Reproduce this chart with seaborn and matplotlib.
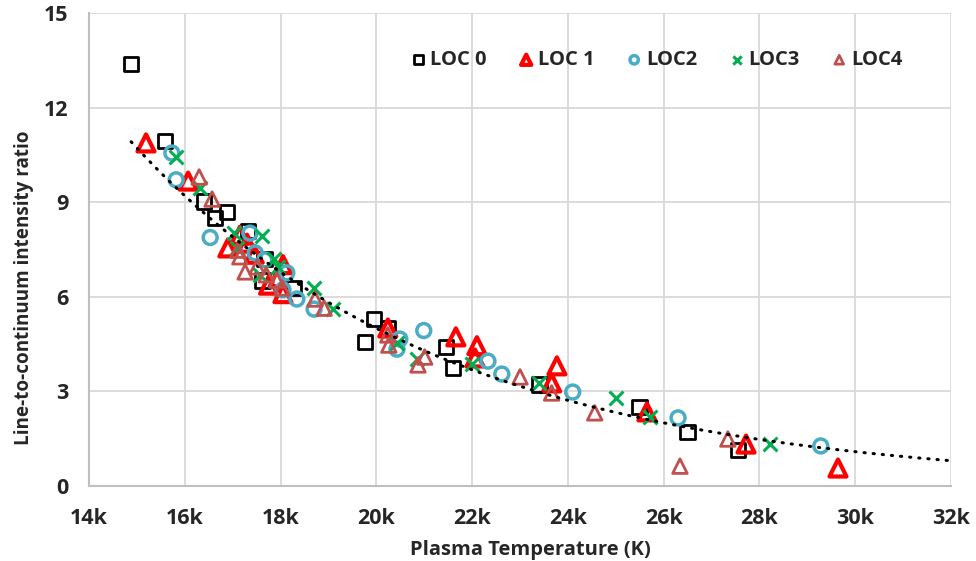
import numpy as np
import seaborn as sns
import matplotlib.pyplot as plt
from matplotlib.ticker import FuncFormatter, MultipleLocator

# plasma temperature (K) and line-to-continuum ratio
loc0_t = [14880, 15590, 16400, 16630, 16880, 17320, 17670, 17620, 18280, 19760,
          19950, 20240, 21450, 21600, 23410, 25500, 26500, 27550]
loc0_r = [13.38, 10.94, 9.03, 8.50, 8.69, 8.08, 7.20, 6.52, 6.28, 4.57,
          5.30, 5.00, 4.41, 3.74, 3.22, 2.51, 1.71, 1.14]

loc1_t = [15190, 16070, 16900, 17150, 17300, 17450, 17750, 17950, 18050, 18050,
          20240, 21660, 22100, 22060, 23770, 23660, 25650, 27720, 29640]
loc1_r = [10.88, 9.67, 7.55, 7.95, 7.70, 7.35, 6.37, 6.60, 7.02, 6.10,
          5.01, 4.73, 4.45, 4.06, 3.81, 3.27, 2.35, 1.33, 0.57]

loc2_t = [15730, 15820, 16530, 17360, 17470, 17670, 18130, 18050, 18340, 18700,
          20430, 20490, 20990, 22330, 22620, 24100, 26300, 29280]
loc2_r = [10.56, 9.71, 7.88, 8.02, 7.39, 7.17, 6.76, 6.22, 5.93, 5.61,
          4.34, 4.66, 4.93, 3.96, 3.55, 2.98, 2.16, 1.27]

loc3_t = [15820, 16320, 17020, 17100, 17610, 17860, 17570, 17950, 18700, 19090,
          20430, 20850, 22000, 23390, 25000, 25710, 28220]
loc3_r = [10.43, 9.46, 8.02, 7.55, 7.93, 7.20, 6.69, 6.95, 6.28, 5.61,
          4.53, 4.03, 3.87, 3.27, 2.79, 2.19, 1.33]

loc4_t = [16300, 16570, 17110, 17150, 17260, 17510, 17700, 17920, 18030, 18720,
          18910, 20240, 20260, 21010, 20870, 23000, 23660, 24560, 26340, 27340]
loc4_r = [9.80, 9.10, 7.48, 7.27, 6.79, 6.95, 6.70, 6.53, 6.28, 5.93,
          5.64, 4.79, 4.47, 4.09, 3.84, 3.46, 2.95, 2.32, 0.63, 1.49]

# exponential trendline as drawn in the chart: r = trend_r20 * exp(trend_rate * (T - 20000))
trend_r20 = 5.0
trend_rate = -0.0001525
trend_end = 32000

sns.set_style("white")
plt.rcParams["font.family"] = ["Open Sans", "DejaVu Sans"]
plt.rcParams["font.weight"] = "bold"

fig, ax = plt.subplots(figsize=(9.76, 5.61), dpi=100)
fig.subplots_adjust(left=0.0912, right=0.9744, bottom=0.1337, top=0.9768)

sns.scatterplot(x=loc0_t, y=loc0_r, marker="s", s=110, facecolor="none",
                edgecolor="black", linewidth=2, label="LOC 0", ax=ax, zorder=3)
sns.scatterplot(x=loc1_t, y=loc1_r, marker="^", s=150, facecolor="none",
                edgecolor="#FF0000", linewidth=3, label="LOC 1", ax=ax, zorder=3)
sns.scatterplot(x=loc2_t, y=loc2_r, marker="o", s=100, facecolor="none",
                edgecolor="#4BACC6", linewidth=2.5, label="LOC2", ax=ax, zorder=3)
sns.scatterplot(x=loc3_t, y=loc3_r, marker="x", s=100, color="#00B050",
                linewidth=2.2, label="LOC3", ax=ax, zorder=3)
sns.scatterplot(x=loc4_t, y=loc4_r, marker="^", s=110, facecolor="none",
                edgecolor="#C0504D", linewidth=2, label="LOC4", ax=ax, zorder=3)

all_t = loc0_t + loc1_t + loc2_t + loc3_t + loc4_t
tt = np.linspace(min(all_t), trend_end, 200)
ax.plot(tt, trend_r20 * np.exp(trend_rate * (tt - 20000)), color="black", lw=2.2,
        dashes=(0.4, 2.6), dash_capstyle="round", zorder=4)

ax.set_xlim(14000, 32000)
ax.set_ylim(0, 15)
ax.xaxis.set_major_locator(MultipleLocator(2000))
ax.yaxis.set_major_locator(MultipleLocator(3))
ax.xaxis.set_major_formatter(FuncFormatter(lambda v, p: f"{v/1000:.0f}k"))
ax.grid(True, color="#D9D9D9", lw=1.3)
ax.set_axisbelow(True)
for side in ["top", "right"]:
    ax.spines[side].set_visible(False)
for side in ["left", "bottom"]:
    ax.spines[side].set_color("#BFBFBF")
    ax.spines[side].set_linewidth(1.5)
ax.tick_params(axis="x", length=0, labelsize=15.5, pad=16)
ax.tick_params(axis="y", length=0, labelsize=15.5, pad=15)
for lab in ax.get_xticklabels() + ax.get_yticklabels():
    lab.set_fontweight("bold")

ax.set_xlabel("Plasma Temperature (K)", fontsize=14.5, fontweight="bold")
ax.set_ylabel("Line-to-continuum intensity ratio", fontsize=13.6, fontweight="bold")
ax.xaxis.set_label_coords(0.512, -0.114)
ax.yaxis.set_label_coords(-0.064, 0.42)

ax.legend(loc="upper right", bbox_to_anchor=(0.965, 0.96), ncol=5, frameon=False,
          markerscale=0.6, handletextpad=0.1, columnspacing=1.45,
          handlelength=1.0, prop={"weight": "bold", "size": 14.5})

fig.savefig("out.png", dpi=100)
